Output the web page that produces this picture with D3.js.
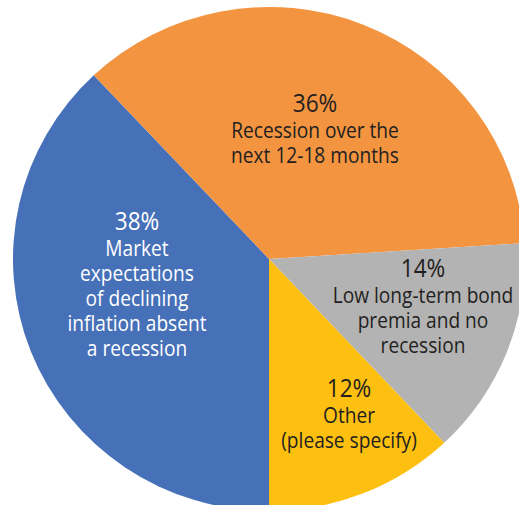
<!DOCTYPE html>
<html>
<head>
<meta charset="utf-8">
<script src="https://cdn.jsdelivr.net/npm/d3@7"></script>
<style>
  body { margin: 0; background: #fff; }
  svg { display: block; }
</style>
</head>
<body>
<div id="chart"></div>
<script>
// Données du sondage (parts en %)
const categories = [
  ["Market", "expectations", "of declining", "inflation absent", "a recession"],
  ["Recession over the", "next 12-18 months"],
  ["Low long-term bond", "premia and no", "recession"],
  ["Other", "(please specify)"]
];
const shares = [38, 36, 14, 12];
const pctLabels = ["38%", "36%", "14%", "12%"];
const colors = ["#4670b8", "#f39441", "#b3b3b3", "#fdc010"];
const textColors = ["#ffffff", "#231f20", "#231f20", "#231f20"];
// centre des étiquettes (x, ligne de base du pourcentage)
const labelAnchors = [[137, 230], [315, 112], [423, 277], [349, 397]];

const width = 519, height = 505;
const cx = 269, cy = 259, rx = 256, ry = 252;

const svg = d3.select('#chart')
  .append('svg')
  .attr('width', width)
  .attr('height', height);

const pie = d3.pie()
  .sort(null)
  .value(d => d)
  .startAngle(Math.PI)
  .endAngle(3 * Math.PI);

const arc = d3.arc().innerRadius(0).outerRadius(rx);

// Le camembert est légèrement aplati verticalement
const g = svg.append('g')
  .attr('transform', `translate(${cx},${cy}) scale(1,${ry / rx})`);

g.selectAll('path')
  .data(pie(shares))
  .enter()
  .append('path')
  .attr('d', arc)
  .attr('fill', (d, i) => colors[i]);

// Étiquettes
const font = "'Open Sans', 'Noto Sans', sans-serif";
const squeeze = 0.87;
const lineH = 25;

labelAnchors.forEach((a, i) => {
  const lab = svg.append('g')
    .attr('transform', `translate(${a[0]},${a[1]}) scale(${squeeze},1)`)
    .attr('fill', textColors[i])
    .style('font-family', font)
    .attr('text-anchor', 'middle');

  lab.append('text')
    .attr('x', 0)
    .attr('y', 0)
    .style('font-size', '26px')
    .style('font-weight', 400)
    .text(pctLabels[i]);

  categories[i].forEach((line, j) => {
    lab.append('text')
      .attr('x', 0)
      .attr('y', 26 + j * lineH)
      .style('font-size', '22px')
      .text(line);
  });
});
</script>
</body>
</html>
